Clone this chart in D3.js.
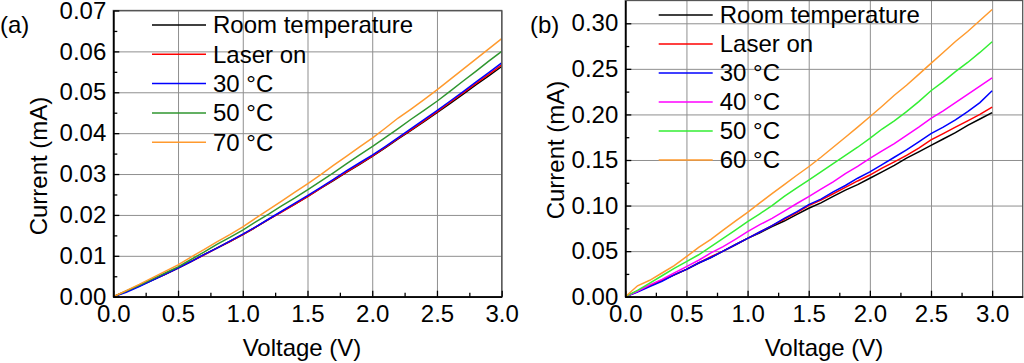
<!DOCTYPE html>
<html>
<head>
<meta charset="utf-8">
<script src="https://cdn.jsdelivr.net/npm/d3@7"></script>
<style>
  body { margin: 0; background: #fff; }
  svg { display: block; font-family: "Liberation Sans", Arial, sans-serif; }
  .grid line { stroke: #8f8f8f; stroke-width: 1; }
  .grid .domain { display: none; }
  .axis text { font-size: 24px; fill: #000; font-family: "Liberation Sans", Arial, sans-serif; }
  .axis path, .axis line { stroke: #000; stroke-width: 1.3; }
  .frame { fill: none; stroke: #555; stroke-width: 1.3; }
  .label { font-size: 24px; fill: #000; }
  .curve { fill: none; stroke-width: 1.5; }
</style>
</head>
<body>
<svg id="chart" width="1024" height="363"></svg>
<script>
// voltage sweep, shared by every curve (V)
var voltage = [0, 0.1, 0.2, 0.3, 0.4, 0.5, 0.6, 0.7, 0.8, 0.9, 1.0, 1.1, 1.2, 1.3, 1.4, 1.5,
               1.6, 1.7, 1.8, 1.9, 2.0, 2.1, 2.2, 2.3, 2.4, 2.5, 2.6, 2.7, 2.8, 2.9, 3.0];

// panel (a) currents (mA)
var namesA = ["Room temperature", "Laser on", "30 \u00b0C", "50 \u00b0C", "70 \u00b0C"];
var roomA  = [0, 0.0013, 0.0026, 0.0040, 0.0055, 0.0070, 0.0086, 0.0103, 0.0119, 0.0135, 0.0152, 0.0170, 0.0189, 0.0208, 0.0226, 0.0245,
              0.0265, 0.0284, 0.0304, 0.0323, 0.0343, 0.0364, 0.0386, 0.0407, 0.0428, 0.0450, 0.0472, 0.0495, 0.0518, 0.0540, 0.0563];
var laserA = [0, 0.0013, 0.0027, 0.0041, 0.0055, 0.0070, 0.0086, 0.0102, 0.0119, 0.0135, 0.0152, 0.0170, 0.0189, 0.0207, 0.0226, 0.0245,
              0.0265, 0.0285, 0.0305, 0.0324, 0.0344, 0.0365, 0.0387, 0.0408, 0.0430, 0.0452, 0.0475, 0.0498, 0.0521, 0.0544, 0.0567];
var t30A   = [0, 0.0011, 0.0025, 0.0040, 0.0055, 0.0070, 0.0086, 0.0103, 0.0119, 0.0136, 0.0153, 0.0171, 0.0190, 0.0209, 0.0228, 0.0247,
              0.0267, 0.0287, 0.0308, 0.0327, 0.0346, 0.0367, 0.0389, 0.0411, 0.0433, 0.0455, 0.0478, 0.0501, 0.0525, 0.0548, 0.0572];
var t50A   = [0, 0.0014, 0.0028, 0.0043, 0.0058, 0.0073, 0.0091, 0.0109, 0.0128, 0.0145, 0.0163, 0.0183, 0.0202, 0.0222, 0.0241, 0.0261,
              0.0282, 0.0303, 0.0325, 0.0346, 0.0367, 0.0389, 0.0411, 0.0434, 0.0456, 0.0478, 0.0502, 0.0527, 0.0551, 0.0576, 0.0600];
var t70A   = [0, 0.0015, 0.0030, 0.0046, 0.0062, 0.0078, 0.0097, 0.0115, 0.0134, 0.0152, 0.0171, 0.0192, 0.0213, 0.0234, 0.0255, 0.0276,
              0.0298, 0.0321, 0.0343, 0.0366, 0.0388, 0.0412, 0.0437, 0.0459, 0.0482, 0.0506, 0.0531, 0.0556, 0.0581, 0.0606, 0.0631];

// panel (b) currents (mA)
var namesB = ["Room temperature", "Laser on", "30 \u00b0C", "40 \u00b0C", "50 \u00b0C", "60 \u00b0C"];
var roomB  = [0, 0.006, 0.012, 0.018, 0.024, 0.030, 0.037, 0.043, 0.050, 0.057, 0.064, 0.070, 0.077, 0.083, 0.090, 0.097,
              0.103, 0.110, 0.117, 0.123, 0.130, 0.137, 0.144, 0.152, 0.159, 0.166, 0.173, 0.180, 0.188, 0.195, 0.202];
var laserB = [0, 0.006, 0.012, 0.018, 0.024, 0.030, 0.037, 0.044, 0.050, 0.057, 0.064, 0.071, 0.078, 0.085, 0.092, 0.100,
              0.106, 0.113, 0.120, 0.127, 0.1335, 0.141, 0.148, 0.155, 0.163, 0.172, 0.179, 0.186, 0.193, 0.200, 0.208];
var t30B   = [0, 0.005, 0.011, 0.017, 0.024, 0.030, 0.037, 0.043, 0.050, 0.057, 0.064, 0.071, 0.078, 0.086, 0.093, 0.101,
              0.107, 0.115, 0.122, 0.130, 0.137, 0.145, 0.153, 0.161, 0.170, 0.179, 0.186, 0.194, 0.203, 0.213, 0.226];
var t40B   = [0, 0.006, 0.013, 0.019, 0.026, 0.033, 0.040, 0.048, 0.055, 0.063, 0.0713, 0.079, 0.086, 0.094, 0.102, 0.1097,
              0.118, 0.126, 0.135, 0.143, 0.1518, 0.160, 0.168, 0.177, 0.186, 0.1957, 0.204, 0.213, 0.222, 0.231, 0.240];
var t50B   = [0, 0.007, 0.015, 0.023, 0.031, 0.0384, 0.046, 0.055, 0.064, 0.073, 0.0823, 0.091, 0.100, 0.110, 0.119, 0.128,
              0.137, 0.146, 0.155, 0.164, 0.1737, 0.184, 0.193, 0.203, 0.214, 0.226, 0.236, 0.247, 0.257, 0.268, 0.2797];
var t60B   = [0, 0.012, 0.018, 0.026, 0.034, 0.0439, 0.054, 0.063, 0.073, 0.083, 0.0926, 0.103, 0.113, 0.123, 0.133, 0.1426,
              0.153, 0.164, 0.175, 0.186, 0.1974, 0.209, 0.221, 0.232, 0.244, 0.256, 0.268, 0.280, 0.291, 0.303, 0.3152];

// ticks
var xTicks = [0, 0.5, 1.0, 1.5, 2.0, 2.5, 3.0];
var yTicksA = [0, 0.01, 0.02, 0.03, 0.04, 0.05, 0.06, 0.07];
var yTicksB = [0, 0.05, 0.10, 0.15, 0.20, 0.25, 0.30];

var svg = d3.select("#chart");

function drawPanel(p) {
  var width = p.x1 - p.x0,
      height = p.y1 - p.y0;

  var x = d3.scaleLinear().domain(p.xDomain).range([0, width]);
  var y = d3.scaleLinear().domain(p.yDomain).range([height, 0]);

  var g = svg.append("g")
      .attr("transform", "translate(" + p.x0 + "," + p.y0 + ")");

  // grid
  g.append("g")
      .attr("class", "grid")
      .attr("transform", "translate(0," + height + ")")
      .call(d3.axisBottom(x).tickValues(xTicks).tickSize(-height).tickFormat(""));
  g.append("g")
      .attr("class", "grid")
      .call(d3.axisLeft(y).tickValues(p.yTicks).tickSize(-width).tickFormat(""));

  // curves
  var line = d3.line()
      .x(function(d) { return x(d[0]); })
      .y(function(d) { return y(d[1]); });

  p.series.forEach(function(s, i) {
    g.append("path")
        .attr("class", "curve")
        .attr("stroke", p.colors[i])
        .attr("d", line(voltage.map(function(v, k) { return [v, s[k]]; })));
  });

  // frame
  g.append("rect")
      .attr("class", "frame")
      .attr("width", width)
      .attr("height", height);

  // axes, ticks pointing inward
  g.append("g")
      .attr("class", "axis")
      .attr("transform", "translate(0," + height + ")")
      .call(d3.axisBottom(x).tickValues(xTicks).tickSizeInner(-6).tickSizeOuter(0)
        .tickPadding(8).tickFormat(d3.format(".1f")));
  g.append("g")
      .attr("class", "axis minor")
      .attr("transform", "translate(0," + height + ")")
      .call(d3.axisBottom(x).tickValues(p.xMinor).tickSizeInner(-4).tickSizeOuter(0).tickFormat(""));

  g.append("g")
      .attr("class", "axis")
      .call(d3.axisLeft(y).tickValues(p.yTicks).tickSizeInner(-6).tickSizeOuter(0)
        .tickPadding(7).tickFormat(d3.format(".2f")));
  g.append("g")
      .attr("class", "axis minor")
      .call(d3.axisLeft(y).tickValues(p.yMinor).tickSizeInner(-4).tickSizeOuter(0).tickFormat(""));

  // axis titles
  svg.append("text")
      .attr("class", "label")
      .attr("x", p.xLabelX)
      .attr("y", 356)
      .style("text-anchor", "middle")
      .text("Voltage (V)");
  svg.append("text")
      .attr("class", "label")
      .attr("transform", "rotate(-90)")
      .attr("x", -p.yLabelY)
      .attr("y", p.yLabelX)
      .style("text-anchor", "middle")
      .text("Current (mA)");
  svg.append("text")
      .attr("class", "label")
      .attr("x", p.tagX)
      .attr("y", 33)
      .text(p.tag);

  // legend
  var legend = svg.append("g")
      .attr("class", "legend")
    .selectAll("g")
      .data(p.names)
    .enter().append("g")
      .attr("transform", function(d, i) { return "translate(" + p.legX + "," + (p.legY + i * p.legStep) + ")"; });

  legend.append("line")
      .attr("x1", 0)
      .attr("x2", 54)
      .attr("stroke-width", 1.5)
      .attr("stroke", function(d, i) { return p.colors[i]; });

  legend.append("text")
      .attr("class", "label")
      .attr("x", 61)
      .attr("dy", ".35em")
      .text(function(d) { return d; });
}

drawPanel({
  tag: "(a)", tagX: 0,
  x0: 113.3, x1: 501.7, y0: 10.5, y1: 296.7,
  xDomain: [0, 3], yDomain: [0, 0.07],
  yTicks: yTicksA,
  xMinor: [0.25, 0.75, 1.25, 1.75, 2.25, 2.75],
  yMinor: [0.005, 0.015, 0.025, 0.035, 0.045, 0.055, 0.065],
  series: [roomA, laserA, t30A, t50A, t70A],
  names: namesA,
  colors: ["#000000", "#ff0000", "#0000ff", "#2f962f", "#ff9a2e"],
  xLabelX: 302, yLabelX: 46.5, yLabelY: 166,
  legX: 152, legY: 25, legStep: 29.3
});

drawPanel({
  tag: "(b)", tagX: 530,
  x0: 625.3, x1: 1022.7, y0: 0.5, y1: 296.7,
  xDomain: [0, 3.25], yDomain: [0, 0.325],
  yTicks: yTicksB,
  xMinor: [0.25, 0.75, 1.25, 1.75, 2.25, 2.75],
  yMinor: [0.025, 0.075, 0.125, 0.175, 0.225, 0.275],
  series: [roomB, laserB, t30B, t40B, t50B, t60B],
  names: namesB,
  colors: ["#000000", "#ff0000", "#0000ff", "#ff00ff", "#33ee33", "#ff9a2e"],
  xLabelX: 824, yLabelX: 563.5, yLabelY: 150,
  legX: 658.7, legY: 15, legStep: 29
});
</script>
</body>
</html>
